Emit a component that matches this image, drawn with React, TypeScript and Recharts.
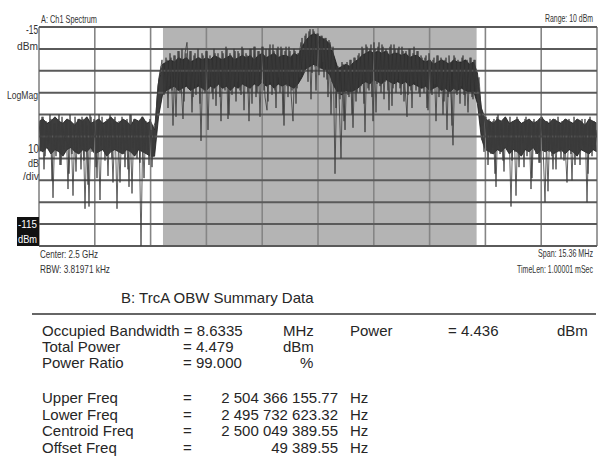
import React from "react";
import { ComposedChart, Line, Area, XAxis, YAxis, ReferenceArea, ReferenceLine } from "recharts";

// Sweep settings (MHz offsets from centre, dBm levels)
const centerGHz = 2.5;
const spanMHz = 15.36;
const refLevel = -15;
const bottomLevel = -115;
const dbPerDiv = 10;
const freqDivisions = 10;

// Spectrum trace, even-numbered frequency bins across the span (dBm)
const evenBins: number[] = [
  -58, -70, -56, -74, -60, -68, -57, -93, -59, -71,
  -55, -78, -61, -67, -57, -82, -60, -92, -56, -72,
  -59, -80, -57, -98, -60, -97, -56, -70, -58, -84,
  -55, -69, -61, -76, -57, -70, -59, -86, -56, -98,
  -58, -71, -60, -79, -57, -88, -55, -70, -59, -75,
  -58, -115, -57, -72, -60, -78, -62, -74,
  -64, -47, -38, -33,
  -32, -45, -30, -42, -29, -60, -28, -44, -26, -40,
  -57, -27, -22, -43, -26, -47, -27, -41, -29, -67,
  -28, -45, -26, -39, -30, -48, -27, -42, -29, -58,
  -27, -44, -25, -55, -28, -43, -26, -40, -27, -46,
  -25, -42, -28, -58, -25, -41, -24, -45, -26, -39,
  -24, -47, -53, -25, -40, -23, -44, -25, -38, -24,
  -55, -26, -42, -24, -45, -58, -26, -43, -28,
  -22, -36, -19, -34, -17, -48, -16, -33, -18, -37, -19, -31, -20, -39, -21, -55, -24,
  -82, -33, -46, -75, -32, -62, -31, -47, -30, -61, -29, -45, -27,
  -42, -25, -63, -24, -44, -23, -58, -25, -41, -22,
  -45, -24, -40, -26, -53, -23, -43, -25, -39, -24,
  -46, -26, -42, -56, -25, -44, -27, -40, -26, -45,
  -28, -43, -29, -52, -27, -45, -30, -41, -28, -47,
  -29, -55, -30, -62, -28, -44, -69, -29, -46, -31,
  -42, -28, -51, -30, -44, -29, -48, -30, -43,
  -38, -52, -60,
  -56, -70, -57, -73, -58, -82, -56, -69, -59, -76,
  -57, -71, -60, -97, -58, -72, -56, -79, -60, -68,
  -57, -74, -59, -89, -58, -70, -61, -77, -57, -69,
  -95, -58, -72, -60, -80, -57, -70, -59, -75, -58,
  -68, -86, -57, -73, -60, -78, -58, -71, -59, -69,
  -57, -95, -60, -72, -58, -70, -62,
];

// Same trace, odd-numbered bins (halfway between the even ones) (dBm)
const oddBins: number[] = [
  -72, -56, -80, -58, -69, -55, -85, -59, -74, -57,
  -78, -56, -71, -58, -89, -55, -73, -59, -81, -57,
  -70, -56, -76, -58, -87, -55, -72, -57, -79, -59,
  -94, -56, -71, -58, -83, -55, -75, -57, -70, -59,
  -86, -56, -73, -58, -80, -55, -91, -57, -72, -59,
  -77, -56, -84, -58, -71, -57, -79,
  -60, -58, -42, -36,
  -30, -46, -29, -52, -27, -44, -28, -56, -26, -45,
  -25, -49, -27, -43, -26, -54, -28, -46, -25, -50,
  -27, -44, -26, -62, -28, -45, -25, -51, -27, -47,
  -26, -43, -24, -57, -27, -46, -25, -49, -26, -44,
  -24, -53, -27, -45, -25, -50, -24, -47, -26, -56,
  -24, -44, -25, -49, -23, -46, -26, -52, -24, -45,
  -25, -60, -24, -47, -26, -44, -25, -50, -27,
  -38, -20, -35, -18, -40, -16, -36, -17, -44, -18, -34, -19, -38, -20, -47, -22, -40,
  -30, -52, -33, -48, -31, -58, -32, -46, -30, -55, -29, -49, -28,
  -45, -24, -50, -23, -43, -25, -47, -22, -54, -24,
  -42, -23, -48, -25, -44, -24, -51, -23, -45, -25,
  -43, -24, -49, -26, -46, -25, -52, -24, -44, -26,
  -47, -29, -45, -28, -53, -30, -46, -29, -58, -28,
  -44, -30, -49, -29, -47, -31, -60, -28, -45, -30,
  -50, -29, -46, -31, -54, -29, -47, -30, -45,
  -40, -48, -62,
  -72, -56, -78, -58, -70, -57, -88, -55, -73, -59,
  -81, -57, -71, -56, -76, -58, -92, -57, -72, -59,
  -79, -56, -70, -58, -84, -57, -73, -59, -77, -56,
  -71, -58, -90, -57, -74, -59, -80, -56, -72, -58,
  -76, -57, -70, -59, -85, -56, -73, -58, -78, -57,
  -71, -59, -82, -56, -74, -58, -72,
];

// Dense part of the trace: upper and lower edge on a coarser frequency grid (dBm)
const coreHigh: number[] = [
  -58, -57, -59, -58, -56, -58, -59, -57, -58, -60,
  -57, -58, -56, -59, -58, -57, -59, -58, -56, -58,
  -59, -57, -58, -60, -57, -58, -56, -59, -58,
  -62, -40, -32,
  -31, -30, -31, -29, -30, -29, -31, -30, -29, -30,
  -29, -30, -28, -29, -30, -29, -28, -30, -29, -28,
  -29, -28, -30, -28, -27, -29, -28, -27, -29, -28,
  -28, -29, -27, -28,
  -24, -21, -19, -18, -19, -20, -21, -23,
  -28,
  -34, -33, -32, -33, -31, -30,
  -28, -27, -26, -27, -26, -27, -26, -28, -27, -27,
  -28, -27, -29, -28, -28,
  -30, -31, -30, -32, -31, -30, -31, -32, -30, -31,
  -31, -30, -32, -31,
  -36, -52,
  -57, -58, -59, -57, -58, -56, -59, -58, -57, -59,
  -58, -57, -59, -58, -56, -58, -59, -57, -58, -59,
  -57, -58, -59, -57, -58, -60, -57, -58, -59,
];
const coreLow: number[] = [
  -71, -72, -70, -73, -71, -72, -74, -71, -70, -72,
  -73, -71, -72, -70, -73, -72, -71, -74, -72, -71,
  -72, -73, -71, -72, -74, -71, -72, -73, -74,
  -74, -56, -46,
  -44, -43, -42, -44, -43, -42, -44, -43, -42, -43,
  -44, -42, -43, -41, -43, -42, -44, -42, -43, -41,
  -42, -43, -41, -42, -40, -42, -41, -43, -41, -42,
  -41, -42, -43, -41,
  -38, -34, -33, -32, -33, -34, -35, -37,
  -42,
  -45, -46, -44, -45, -44, -43,
  -41, -40, -41, -39, -40, -41, -39, -40, -41, -40,
  -41, -40, -42, -41, -42,
  -43, -42, -44, -43, -42, -44, -43, -45, -43, -44,
  -43, -44, -45, -44,
  -50, -66,
  -71, -72, -73, -71, -72, -70, -73, -71, -72, -74,
  -71, -72, -70, -73, -71, -72, -71, -73, -72, -71,
  -73, -71, -72, -74, -71, -72, -73, -71, -72,
];

// OBW summary values
const occupiedBandwidthMHz = "8.6335";
const obwPower = "4.436";
const totalPower = "4.479";
const powerRatio = "99.000";
const freqRowLabels = ["Upper Freq", "Lower Freq", "Centroid Freq", "Offset Freq"];
const freqRowValuesHz = [2504366155.77, 2495732623.32, 2500049389.55, 49389.55];
const freqRowTexts = ["2 504 366 155.77", "2 495 732 623.32", "2 500 049 389.55", "49 389.55"];

const halfSpan = spanMHz / 2;
const binWidth = spanMHz / (evenBins.length - 1);
const evenData = evenBins.map((level, i) => ({ f: -halfSpan + i * binWidth, level }));
const oddData = oddBins.map((level, i) => ({ f: -halfSpan + (i + 0.5) * binWidth, level }));
const coreStep = spanMHz / (coreHigh.length - 1);
const coreData = coreHigh.map((hi, i) => ({ f: -halfSpan + i * coreStep, band: [coreLow[i], hi] }));

const centerHz = centerGHz * 1e9;
const obwLow = (freqRowValuesHz[1] - centerHz) / 1e6;
const obwHigh = (freqRowValuesHz[0] - centerHz) / 1e6;

const freqGrid = Array.from({ length: freqDivisions + 1 }, (_, i) => -halfSpan + (i * spanMHz) / freqDivisions);
const levelGrid = Array.from({ length: (refLevel - bottomLevel) / dbPerDiv + 1 }, (_, i) => refLevel - i * dbPerDiv);

const sans = "'Liberation Sans', Arial, sans-serif";
const squeeze = 0.72;

type LabelProps = { x: number; y: number; w: number; size?: number; end?: boolean; fill?: string; children: string };
// Instrument-style condensed label; `end` means x is the right edge
function Small({ x, y, w, size = 10.5, end = false, fill, children }: LabelProps) {
  const left = end ? x - w : x;
  return (
    <text
      transform={`translate(${left},${y}) scale(${squeeze},1)`}
      x={0}
      y={0}
      fontSize={size}
      textLength={w / squeeze}
      lengthAdjust="spacingAndGlyphs"
      fill={fill}
    >
      {children}
    </text>
  );
}

export default function App() {
  return (
    <div style={{ position: "absolute", left: 0, top: 0, width: 601, height: 458, background: "#fff", overflow: "hidden" }}>
      <div style={{ position: "absolute", left: 0, top: 0 }}>
        <ComposedChart width={601} height={260} data={evenData} margin={{ top: 27, left: 39, right: 4, bottom: 14 }}>
          <XAxis dataKey="f" type="number" domain={[-halfSpan, halfSpan]} hide allowDataOverflow />
          <YAxis type="number" domain={[bottomLevel, refLevel]} hide allowDataOverflow />
          <ReferenceArea x1={obwLow} x2={obwHigh} y1={bottomLevel} y2={refLevel} fill="#b4b4b4" fillOpacity={1} stroke="none" />
          {freqGrid.map((t) => (
            <ReferenceLine key={"v" + t} x={t} stroke="#858585" strokeWidth={1.6} />
          ))}
          {levelGrid.map((t) => (
            <ReferenceLine key={"h" + t} y={t} stroke="#5a5a5a" strokeWidth={2} />
          ))}
          <Area data={coreData} dataKey="band" type="linear" fill="#121212" fillOpacity={0.82} stroke="#1a1a1a" strokeWidth={0.8} isAnimationActive={false} />
          <Line dataKey="level" type="linear" stroke="#3a3a3a" strokeWidth={0.8} dot={false} isAnimationActive={false} />
          <Line data={oddData} dataKey="level" type="linear" stroke="#3a3a3a" strokeWidth={0.8} dot={false} isAnimationActive={false} />
        </ComposedChart>
      </div>
      <svg width={601} height={458} style={{ position: "absolute", left: 0, top: 0, pointerEvents: "none" }}>
        <g fontFamily={sans} fill="#333">
          <Small x={41} y={23} w={56}>A: Ch1 Spectrum</Small>
          <Small x={593} y={22} w={48} end>Range: 10 dBm</Small>
          <Small x={38} y={34} w={12} size={12} end>-15</Small>
          <Small x={38} y={50} w={21} size={11} end>dBm</Small>
          <Small x={38} y={99} w={31} end>LogMag</Small>
          <Small x={39} y={153} w={11} size={12} end>10</Small>
          <Small x={39} y={167} w={11} size={11} end>dB</Small>
          <Small x={39} y={180} w={16} size={11} end>/div</Small>
          <rect x={17} y={217} width={22} height={29} fill="#111" />
          <Small x={37} y={228} w={19} size={11} end fill="#fff">-115</Small>
          <Small x={37} y={243} w={19} size={10} end fill="#fff">dBm</Small>
          <Small x={40} y={258} w={58}>Center: 2.5 GHz</Small>
          <Small x={40} y={273} w={70}>RBW: 3.81971 kHz</Small>
          <Small x={593} y={257} w={55} end>Span: 15.36 MHz</Small>
          <Small x={593} y={273} w={76} end>TimeLen: 1.00001 mSec</Small>
        </g>
        <g fontFamily={sans} fill="#262626" fontSize={15}>
          <text x={121} y={303}>B: TrcA OBW Summary Data</text>
          <line x1={32} x2={596} y1={314} y2={314} stroke="#333" strokeWidth={1.5} />
          <text x={42} y={336}>Occupied Bandwidth = {occupiedBandwidthMHz}</text>
          <text x={283} y={336}>MHz</text>
          <text x={350} y={336}>Power</text>
          <text x={448} y={336}>= {obwPower}</text>
          <text x={557} y={336}>dBm</text>
          <text x={42} y={352}>Total Power</text>
          <text x={183} y={352}>= {totalPower}</text>
          <text x={283} y={352}>dBm</text>
          <text x={42} y={368}>Power Ratio</text>
          <text x={183} y={368}>= {powerRatio}</text>
          <text x={300} y={368}>%</text>
          {freqRowLabels.map((label, i) => (
            <g key={label}>
              <text x={42} y={403 + i * 16.5}>{label}</text>
              <text x={183} y={403 + i * 16.5}>=</text>
              <text x={338} y={403 + i * 16.5} textAnchor="end">{freqRowTexts[i]}</text>
              <text x={350} y={403 + i * 16.5}>Hz</text>
            </g>
          ))}
        </g>
      </svg>
    </div>
  );
}
